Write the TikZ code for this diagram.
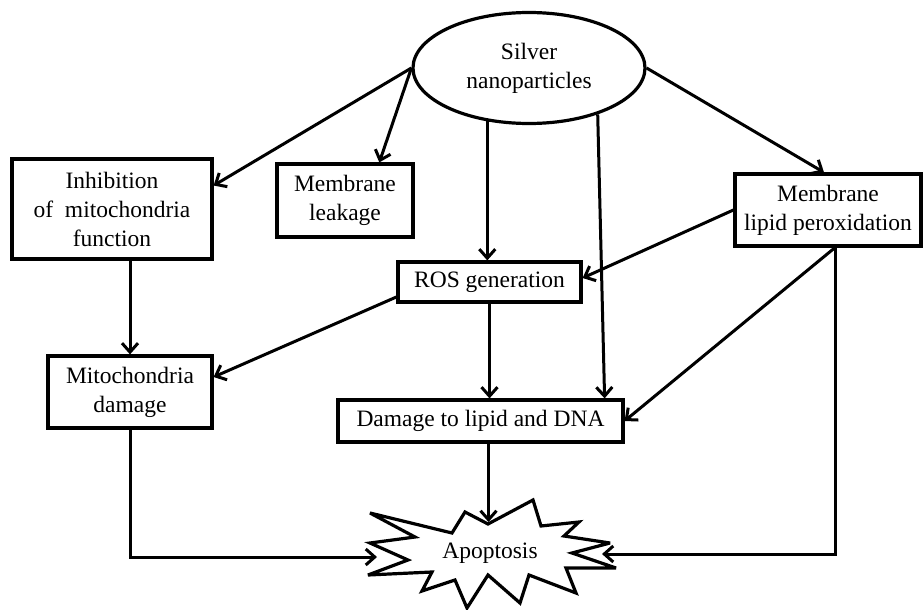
\documentclass[tikz,border=0pt]{standalone}
\usepackage{fontspec}
\setmainfont{Liberation Serif}
\usepackage{tikz}
\usetikzlibrary{arrows.meta,positioning,calc,shapes.geometric}

\begin{document}
\begin{tikzpicture}[x=1pt,y=-1pt,font=\fontsize{23.5}{29}\selectfont,
  box/.style={draw,line width=3.2pt,align=center,inner sep=0pt},
  arr/.style={line width=3pt,-{Straight Barb[length=9pt,width=16pt]}},
  burst/.style={draw,line width=3.2pt,miter limit=4}]
\useasboundingbox (0,0) rectangle (924,610);

\node[box,ellipse,minimum width=232,minimum height=111] (np) at (529,68) {Silver\\nanoparticles};
\node[box,minimum width=200,minimum height=100] (inh) at (112,209) {Inhibition\\of~ mitochondria\\function};
\node[box,minimum width=136,minimum height=73] (leak) at (345,200.5) {Membrane\\leakage};
\node[box,minimum width=186,minimum height=72] (lpo) at (828,210) {Membrane\\lipid peroxidation};
\node[box,minimum width=183,minimum height=40] (ros) at (489.5,282) {ROS generation};
\node[box,minimum width=164,minimum height=72] (mito) at (130,392) {Mitochondria\\damage};
\node[box,minimum width=285,minimum height=42] (dmg) at (480.5,421) {Damage to lipid and DNA};

\draw[burst] (370,513) -- (452,533) -- (465,512) -- (488,524) -- (533,500) -- (541,526)
  -- (579,522) -- (564,536) -- (610,543) -- (572,553) -- (616,568) -- (566,568)
  -- (576,593) -- (529,575) -- (520,603) -- (488,575) -- (467,608) -- (455,580)
  -- (422,591) -- (432,572) -- (368,575) -- (408,560) -- (370,543) -- (415,537) -- cycle;
\node (apo) at (490,553) {Apoptosis};
\coordinate (apoL) at (377,557);
\coordinate (apoR) at (602,554);
\coordinate (apoT) at (488.5,522);
\coordinate (lpoS) at ([xshift=7pt]lpo.south);

\draw[arr] (np.west) -- (inh.13);
\draw[arr] (np.west) -- (leak.48);
\draw[arr] (np.232) -- (np.232 |- ros.north);
\draw[arr] (np.326) -- ([xshift=-20pt]dmg.north east);
\draw[arr] (np.east) -- ([xshift=-4pt]lpo.north);
\draw[arr] (lpo.west) -- ([yshift=4pt]ros.east);
\draw[arr] (lpoS) -- (dmg.east);
\draw[arr] (lpoS) |- (apoR);
\draw[arr] (inh.south -| mito.north) -- (mito.north);
\draw[arr] ([yshift=-15pt]ros.west) -- ([yshift=15pt]mito.east);
\draw[arr] (ros.south) -- (ros.south |- dmg.north);
\draw[arr] (apoT |- dmg.south) -- (apoT);
\draw[arr] (mito.south) |- (apoL);
\end{tikzpicture}
\end{document}
